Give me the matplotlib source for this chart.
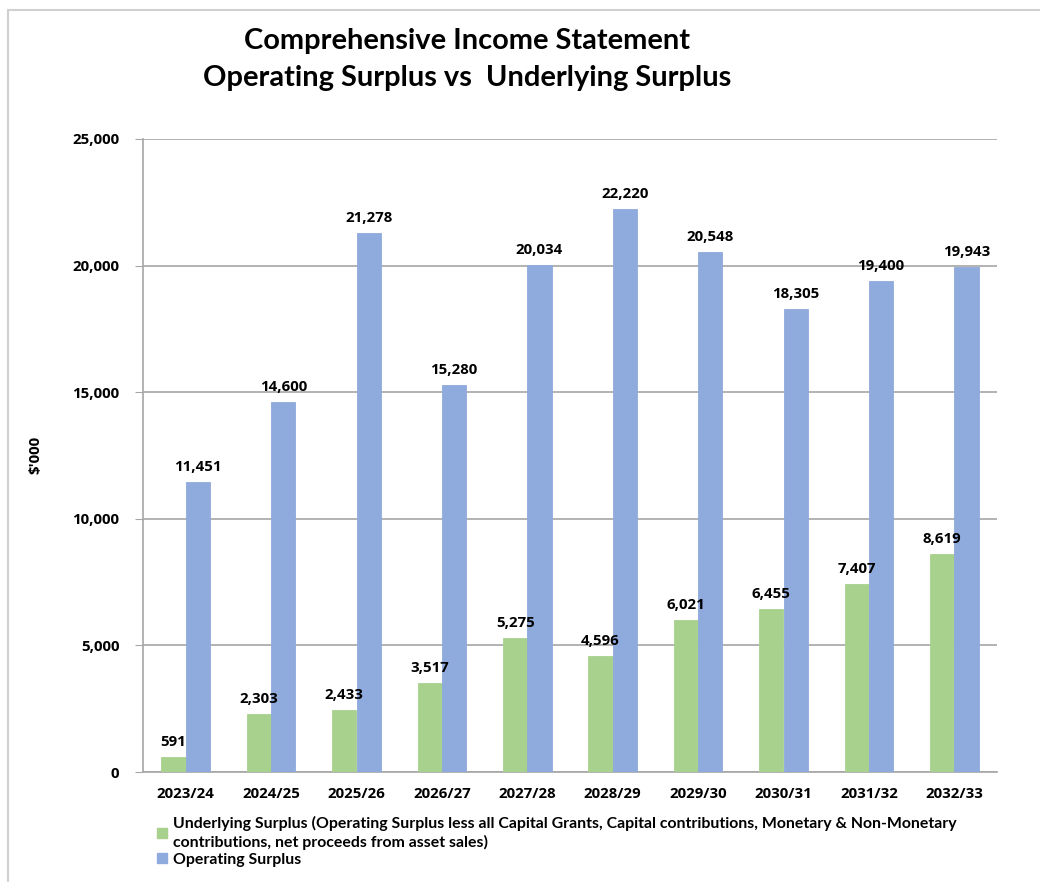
import numpy as np
import matplotlib
matplotlib.use("Agg")
import matplotlib.pyplot as plt
from matplotlib.patches import Rectangle, Patch

years = ["2023/24", "2024/25", "2025/26", "2026/27", "2027/28",
         "2028/29", "2029/30", "2030/31", "2031/32", "2032/33"]
underlying = [591, 2303, 2433, 3517, 5275, 4596, 6021, 6455, 7407, 8619]
operating = [11451, 14600, 21278, 15280, 20034, 22220, 20548, 18305, 19400, 19943]

green = "#a9d18e"
blue = "#8faadc"
grid_col = "#a6a6a6"

W, H = 1040, 882
fig = plt.figure(figsize=(W / 100, H / 100), dpi=100)

# outer chart border
fig.patches.append(Rectangle((8 / W, -0.1), 1.1, (H - 10) / H + 0.1,
                             transform=fig.transFigure, fill=False,
                             edgecolor="#d0d0d0", linewidth=1.5))

ax = fig.add_axes([143 / W, 1 - 772 / H, (997 - 143) / W, (772 - 139) / H])

x = np.arange(len(years))
bw = 0.285
ax.bar(x - bw / 2, underlying, bw, color=green, edgecolor=green,
       linewidth=0.6, zorder=3)
ax.bar(x + bw / 2, operating, bw, color=blue, edgecolor=blue,
       linewidth=0.6, zorder=3)

lab_font = dict(family="Open Sans", weight="bold", size=10.8)
for i in range(len(years)):
    ax.text(x[i] - bw / 2, underlying[i] + 435, f"{underlying[i]:,}",
            ha="center", va="baseline", **lab_font)
    ax.text(x[i] + bw / 2, operating[i] + 435, f"{operating[i]:,}",
            ha="center", va="baseline", **lab_font)

ax.set_xlim(-0.5, len(years) - 0.5)
ax.set_ylim(0, 25000)
ax.set_yticks(np.arange(0, 25001, 5000))
ax.set_yticklabels([f"{v:,}" for v in range(0, 25001, 5000)], **lab_font)
ax.set_xticks(x)
ax.set_xticklabels(years, **lab_font)
ax.tick_params(axis="x", length=0, pad=11)
ax.tick_params(axis="y", length=6, color=grid_col, pad=11)
ax.grid(axis="y", color=grid_col, linewidth=1.2, zorder=0)
for s in ["top", "right"]:
    ax.spines[s].set_visible(False)
ax.spines["left"].set_color(grid_col)
ax.spines["bottom"].set_color(grid_col)
ax.spines["left"].set_linewidth(1.2)
ax.spines["bottom"].set_linewidth(1.2)

fig.text(35 / W, 1 - 455 / H, "$'000", rotation=90, ha="center", va="center",
         **lab_font)

title_font = dict(family="Lato", weight="bold", size=20.9)
fig.text(467 / W, 1 - 41 / H, "Comprehensive Income Statement",
         ha="center", va="center", **title_font)
fig.text(467 / W, 1 - 78 / H, "Operating Surplus vs  Underlying Surplus",
         ha="center", va="center", **title_font)

handles = [Patch(color=green), Patch(color=blue)]
leg = fig.legend(handles,
                 ["Underlying Surplus (Operating Surplus less all Capital Grants, Capital contributions, Monetary & Non-Monetary\ncontributions, net proceeds from asset sales)",
                  "Operating Surplus"],
                 loc="upper left", bbox_to_anchor=(157 / W, 1 - 816 / H),
                 frameon=False, prop=dict(family="Lato", weight="bold", size=11.4),
                 handlelength=0.6, handleheight=0.6, handletextpad=0.4,
                 labelspacing=0.18, borderaxespad=0, borderpad=0)
leg.get_texts()[0].set_linespacing(1.3)

fig.savefig("out.png", dpi=100)
